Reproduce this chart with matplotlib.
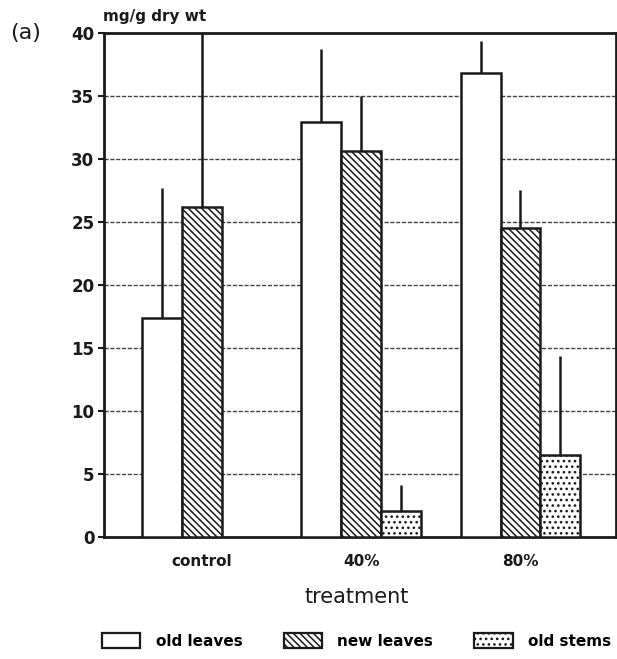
import numpy as np
import matplotlib
matplotlib.use("Agg")
import matplotlib.pyplot as plt
from matplotlib.patches import Patch

# ---- data ----
treatments = ["control", "40%", "80%"]
series_names = ["old leaves", "new leaves", "old stems"]
old_leaves = [17.4, 32.9, 36.8]
old_leaves_err = [10.3, 5.8, 2.6]
new_leaves = [26.2, 30.6, 24.5]
new_leaves_err = [15.0, 4.4, 3.0]
old_stems = [np.nan, 2.05, 6.5]
old_stems_err = [np.nan, 2.05, 7.9]
y_ticks = [0, 5, 10, 15, 20, 25, 30, 35, 40]

INK = "#1a1a1a"
plt.rcParams["hatch.linewidth"] = 1.1
plt.rcParams["hatch.color"] = INK
plt.rcParams["font.family"] = ["DejaVu Sans"]

fig = plt.figure(figsize=(6.17, 6.59), dpi=100)
ax = fig.add_axes([104/617, (659-537)/659, (616-104)/617, (537-33)/659])

idx = np.arange(len(treatments))
pitch = 4
pos_old = idx * pitch + 1
pos_new = idx * pitch + 2
pos_stem = idx * pitch + 3

styles = [
    dict(facecolor="white", hatch=None),
    dict(facecolor="white", hatch="\\\\\\\\\\"),
    dict(facecolor="white", hatch="..."),
]
series = [(pos_old, old_leaves, old_leaves_err),
          (pos_new, new_leaves, new_leaves_err),
          (pos_stem, old_stems, old_stems_err)]

for (pos, vals, errs), st in zip(series, styles):
    vals = np.array(vals, dtype=float)
    errs = np.array(errs, dtype=float)
    m = ~np.isnan(vals)
    ax.bar(pos[m], vals[m], width=1.0, facecolor=st["facecolor"], hatch=st["hatch"],
           edgecolor=INK, linewidth=1.8, zorder=3)
    ax.errorbar(pos[m], vals[m], yerr=[np.zeros(m.sum()), errs[m]], fmt="none",
                ecolor=INK, elinewidth=1.8, capsize=0, zorder=4)

ax.set_xlim(-0.46, 12.4)
ax.set_ylim(0, 40)
ax.set_yticks(y_ticks)
ax.set_yticklabels([str(t) for t in y_ticks], fontsize=12, fontweight="bold", color=INK)
ax.set_xticks(pos_new)
ax.set_xticklabels(treatments, fontsize=11, fontweight="bold", color=INK)
ax.tick_params(axis="x", length=0, pad=12)
ax.tick_params(axis="y", length=4, width=1.5, pad=3, color=INK)

for t in y_ticks[1:-1]:
    ax.axhline(t, color="#444444", linewidth=1.0, linestyle=(0, (3, 1.2)), zorder=1)

for s in ax.spines.values():
    s.set_linewidth(2.0)
    s.set_color(INK)

fig.text(10/617, 1-33/659, "(a)", fontsize=16, ha="left", va="center", color=INK)
fig.text(103/617, 1-17/659, "mg/g dry wt", fontsize=11, fontweight="bold", ha="left",
         va="center", color=INK)
fig.text(357/617, 1-597/659, "treatment", fontsize=15, ha="center", va="center", color=INK)

handles = [Patch(facecolor="white", edgecolor=INK, linewidth=1.6, hatch=st["hatch"])
           for st in styles]
fig.legend(handles, series_names, loc="center", bbox_to_anchor=(0.578, 1-641/659),
           ncol=3, frameon=False, handlelength=2.5, handleheight=1.05,
           handletextpad=1.0, columnspacing=2.7,
           prop=dict(size=11, weight="bold"))

fig.savefig("out.png", dpi=100, facecolor="white")
